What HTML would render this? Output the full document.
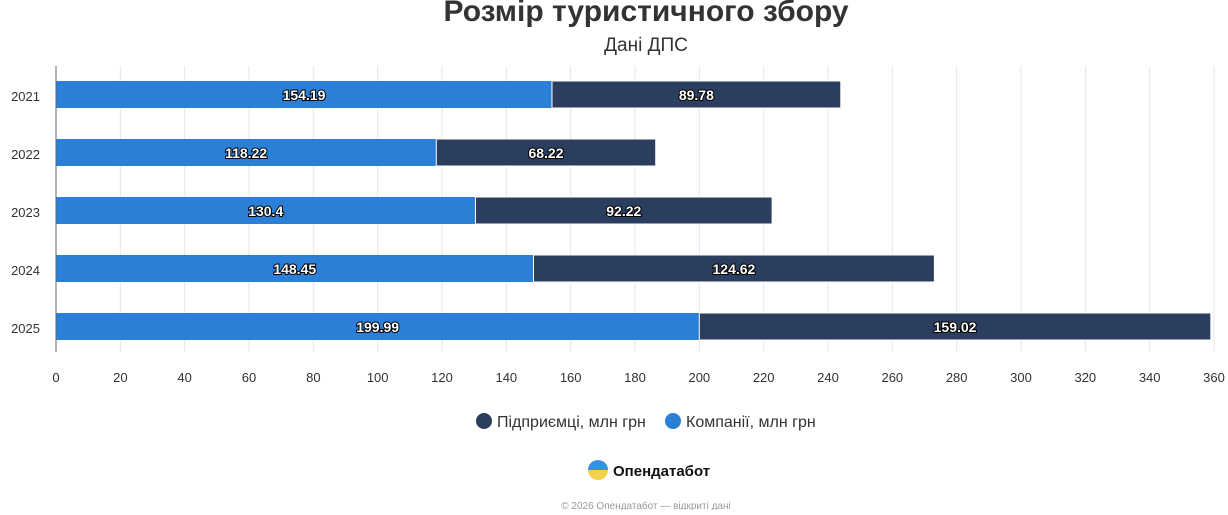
<!DOCTYPE html>
<html><head><meta charset="utf-8"><style>
body{margin:0;background:#fff;width:1228px;height:510px;overflow:hidden;font-family:"Liberation Sans",sans-serif}
</style></head><body>
<svg width="1228" height="510" xmlns="http://www.w3.org/2000/svg" font-family="Liberation Sans, sans-serif">
<text x="646" y="21" text-anchor="middle" font-size="30" font-weight="bold" fill="#333">Розмір туристичного збору</text>
<text x="646" y="51" text-anchor="middle" font-size="19" fill="#333">Дані ДПС</text>
<g id="grid" stroke="#e6e6e6" stroke-width="1"></g>
<g id="bars"></g>
<line x1="56" y1="66" x2="56" y2="352" stroke="#666" stroke-width="1"/>
<g font-size="13" fill="#333" text-anchor="end">
<text x="40" y="101">2021</text><text x="40" y="159">2022</text><text x="40" y="217">2023</text><text x="40" y="275">2024</text><text x="40" y="333">2025</text>
</g>
<g id="ticks" font-size="13" fill="#333" text-anchor="middle"></g>
<circle cx="484" cy="421" r="8" fill="#2c3e5f"/>
<text x="497" y="427" font-size="16" fill="#333">Підприємці, млн грн</text>
<circle cx="673" cy="421" r="8" fill="#2b7fd6"/>
<text x="686" y="427" font-size="16" fill="#333">Компанії, млн грн</text>
<defs><linearGradient id="lg" x1="0" y1="0" x2="0" y2="1"><stop offset="0.5" stop-color="#3a8ee6"/><stop offset="0.5" stop-color="#f5d04a"/></linearGradient></defs>
<circle cx="598" cy="470" r="10" fill="url(#lg)"/>
<text x="613" y="476" font-size="15" font-weight="bold" fill="#111">Опендатабот</text>
<text x="646" y="509" text-anchor="middle" font-size="10" fill="#999">© 2026 Опендатабот — відкриті дані</text>
</svg>
<script>
const ns="http://www.w3.org/2000/svg";
const s=1158/360,x0=56;
const g=document.getElementById('grid'),t=document.getElementById('ticks'),b=document.getElementById('bars');
function el(p,n,a,txt){const e=document.createElementNS(ns,n);for(const k in a)e.setAttribute(k,a[k]);if(txt!=null)e.textContent=txt;p.appendChild(e);return e;}
for(let v=20;v<=360;v+=20){const x=x0+v*s;el(g,'line',{x1:x,x2:x,y1:66,y2:352});}
for(let v=0;v<=360;v+=20){el(t,'text',{x:x0+v*s,y:382},v);}
const d=[[154.19,89.78],[118.22,68.22],[130.4,92.22],[148.45,124.62],[199.99,159.02]];
d.forEach((r,i)=>{const y=81+58*i,h=27;const xa=x0+r[0]*s,xb=xa+r[1]*s;
el(b,'rect',{x:x0,y:y,width:r[0]*s,height:h,fill:'#2b7fd6'});
el(b,'rect',{x:xa,y:y,width:r[1]*s,height:h,fill:'#2c3e5f',stroke:'#fff','stroke-width':1});
const st={'font-size':14,'font-weight':'bold',fill:'#fff',stroke:'#000','stroke-width':2,'paint-order':'stroke','text-anchor':'middle'};
el(b,'text',Object.assign({x:(x0+xa)/2,y:y+19},st),String(r[0]));
el(b,'text',Object.assign({x:(xa+xb)/2,y:y+19},st),String(r[1]));});
</script>
</body></html>
